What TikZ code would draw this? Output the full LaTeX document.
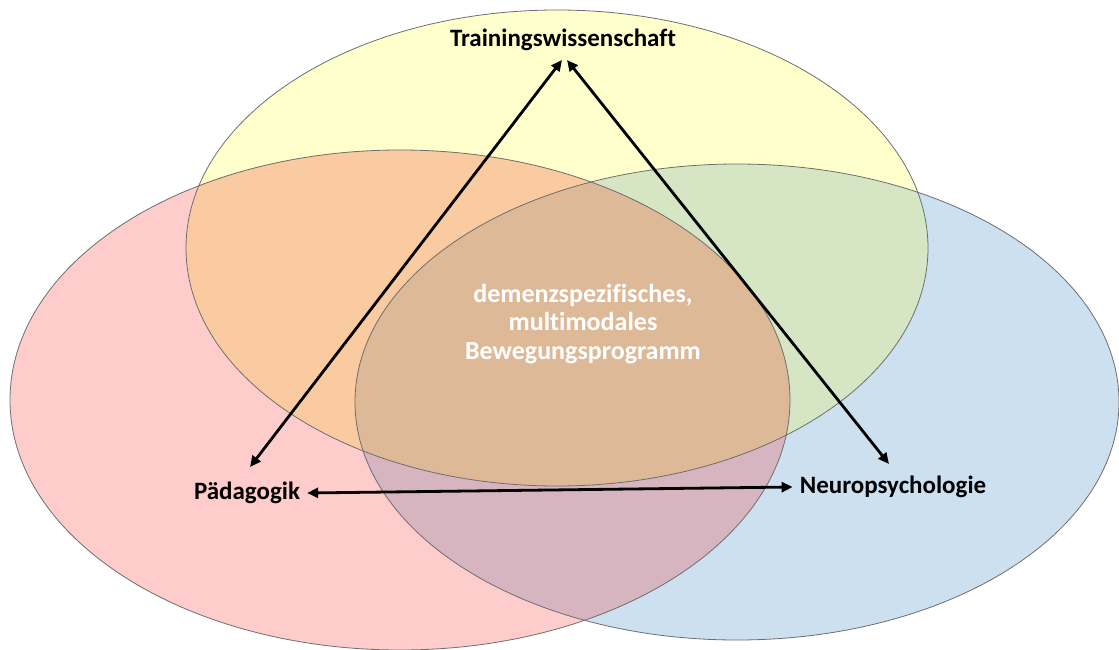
\documentclass[tikz,border=0pt]{standalone}
\usepackage{fontspec}
\setmainfont{Carlito}[Ligatures=NoCommon]
\usetikzlibrary{arrows.meta}
% region colours
\definecolor{cYel}{RGB}{255,255,204}
\definecolor{cRed}{RGB}{255,204,204}
\definecolor{cBlu}{RGB}{204,224,240}
\definecolor{cOra}{RGB}{250,202,160}
\definecolor{cGrn}{RGB}{214,230,196}
\definecolor{cMau}{RGB}{214,180,192}
\definecolor{cMid}{RGB}{222,185,152}
\definecolor{cEdge}{RGB}{110,110,110}
\begin{document}
\begin{tikzpicture}[x=1pt,y=-1pt,
  rim/.style={draw=cEdge,line width=0.8pt},
  lbl/.style={font=\bfseries\fontsize{25}{29}\selectfont,text=black,inner sep=2pt},
  core/.style={font=\bfseries\fontsize{26}{28.5}\selectfont,text=white,align=center,inner sep=0pt},
  dbl/.style={{Triangle[length=11pt,width=10pt]}-{Triangle[length=11pt,width=10pt]},line width=2.8pt,black}]
\useasboundingbox (0,0) rectangle (1119,650);
\fill[white] (0,0) rectangle (1119,650);
% the three discipline ellipses
\def\yel{(557,248) ellipse [x radius=371, y radius=238]}
\def\red{(400,400) ellipse [x radius=390, y radius=250]}
\def\blu{(737,402) ellipse [x radius=382, y radius=238]}
\fill[cRed] \red;
\fill[cBlu] \blu;
\fill[cYel] \yel;
% pairwise overlaps
\begin{scope}\clip \yel; \fill[cOra] \red; \end{scope}
\begin{scope}\clip \yel; \fill[cGrn] \blu; \end{scope}
\begin{scope}\clip \red; \fill[cMau] \blu; \end{scope}
% common core
\begin{scope}\clip \yel; \clip \red; \fill[cMid] \blu; \end{scope}
\draw[rim] \red;
\draw[rim] \blu;
\draw[rim] \yel;
% labels
\node[lbl] (tw) at (563,40) {Trainingswissenschaft};
\node[lbl] (pd) at (247,493) {Pädagogik};
\node[lbl] (np) at (893,487) {Neuropsychologie};
\node[core] (mid) at (583,324) {demenzspezifisches,\\multimodales\\Bewegungsprogramm};
% arrow end points
\coordinate (twL) at (562,60);
\coordinate (twR) at (567,60);
\coordinate (pdT) at (250,467);
\coordinate (npT) at (889,464);
\draw[dbl] (pdT) -- (twL);
\draw[dbl] (twR) -- (npT);
\draw[dbl] ([xshift=5pt]pd.east) -- ([xshift=-5pt]np.west);
\end{tikzpicture}
\end{document}
